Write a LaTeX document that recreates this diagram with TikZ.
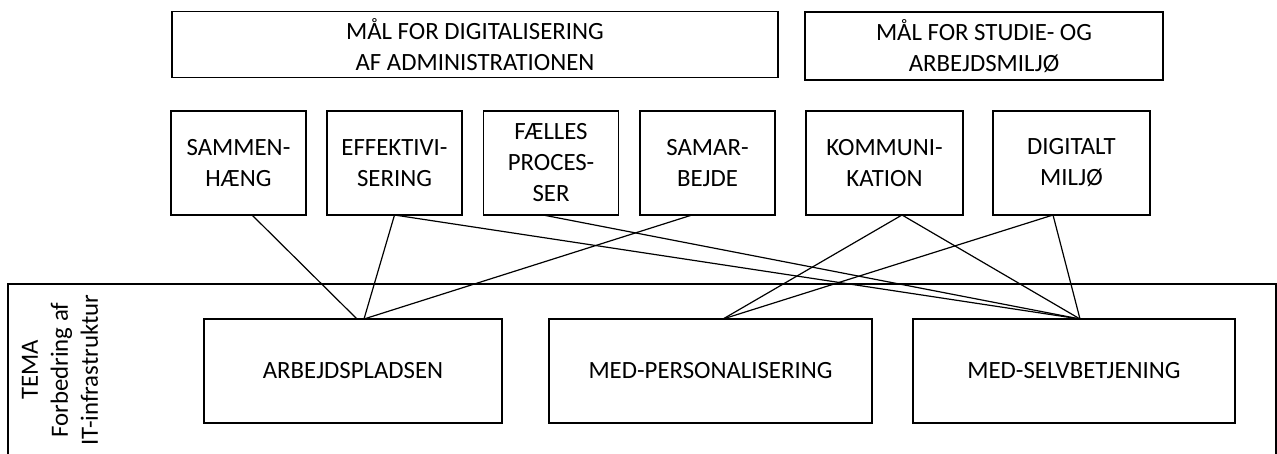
\documentclass[tikz,border=0pt]{standalone}
\usepackage{fontspec}
\setmainfont{Carlito}
\usetikzlibrary{calc}

\tikzset{
  boks/.style={draw, line width=0.6pt, align=center, inner sep=0pt, outer sep=0pt,
    font=\fontsize{12.4}{15.5}\selectfont},
  maal/.style={boks, minimum height=33pt},
  delmaal/.style={boks, minimum width=67.5pt, minimum height=52pt},
  projekt/.style={boks, minimum height=52pt},
}

\begin{document}
\begin{tikzpicture}[x=0.5pt, y=-0.5pt, line width=0.6pt]
      \useasboundingbox (0,0) rectangle (1277,454);

      % maal
      \node[maal, minimum width=303pt] (digi) at (475,44.5)
        {MÅL FOR DIGITALISERING\\AF ADMINISTRATIONEN};
      \node[maal, minimum width=179pt, minimum height=34pt] (miljo) at (984,46)
        {MÅL FOR STUDIE- OG\\ARBEJDSMILJØ};

      % delmaal
      \node[delmaal] (sam)   at (238.5,163) {SAMMEN-\\HÆNG};
      \node[delmaal] (eff)   at (394.5,163) {EFFEKTIVI-\\SERING};
      \node[delmaal] (fael)  at (551,163)   {FÆLLES\\PROCES-\\SER};
      \node[delmaal] (samar) at (707.5,163) {SAMAR-\\BEJDE};
      \node[delmaal, minimum width=78.5pt] (komm) at (884.5,163) {KOMMUNI-\\KATION};
      \node[delmaal, minimum width=78.5pt] (dig)  at (1071.5,163) {DIGITALT\\MILJØ};

      % tema
      \draw (8,454) |- (1276,284) -- (1276,454);
      \node[rotate=90, align=center, font=\fontsize{12.4}{15}\selectfont] (tema) at (60,370)
        {TEMA\\Forbedring af\\IT-infrastruktur};

      \node[projekt, minimum width=149pt]   (arb)  at (353,371)    {ARBEJDSPLADSEN};
      \node[projekt, minimum width=161.5pt] (pers) at (710.5,371)  {MED-PERSONALISERING};
      \node[projekt, minimum width=161pt]   (selv) at (1074,371)   {MED-SELVBETJENING};

      \path ([xshift=6.75pt]sam.south) edge ([xshift=2pt]arb.north);
      \path (eff.south) edge ([xshift=5.5pt]arb.north);
      \path ([xshift=-7.75pt]samar.south) edge ([xshift=5.5pt]arb.north);
      \path (eff.south) edge ([xshift=3pt]selv.north);
      \path ([xshift=-4pt]fael.south) edge ([xshift=3pt]selv.north);
      \path ([xshift=8.75pt]komm.south) edge ([xshift=6.25pt]pers.north);
      \path ([xshift=8.75pt]komm.south) edge ([xshift=3pt]selv.north);
      \path ([xshift=-9.25pt]dig.south) edge ([xshift=6.25pt]pers.north);
      \path ([xshift=-9.25pt]dig.south) edge ([xshift=3pt]selv.north);
    \end{tikzpicture}
\end{document}
